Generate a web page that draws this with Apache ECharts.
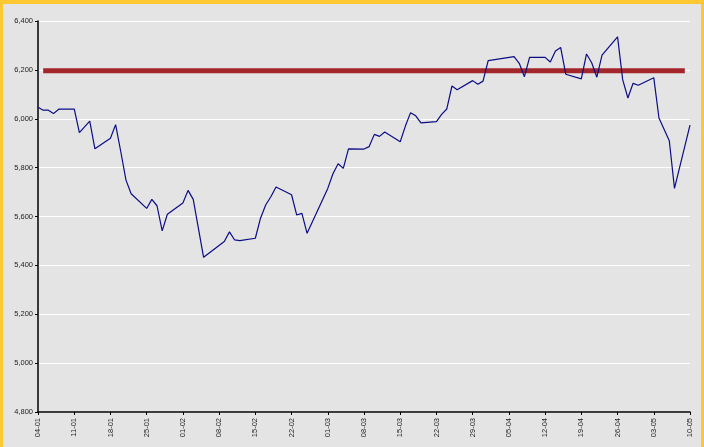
<!DOCTYPE html>
<html>
<head>
<meta charset="utf-8">
<script src="https://cdn.jsdelivr.net/npm/echarts@6/dist/echarts.min.js"></script>
<style>
  html, body { margin: 0; padding: 0; background: #e4e4e4; }
  #chart { width: 704px; height: 447px; }
  #frame {
    position: absolute; left: 0; top: 0; width: 704px; height: 447px;
    box-sizing: border-box; border: 3px solid #fdc832; border-top-width: 4px;
    border-bottom: none; pointer-events: none;
  }
</style>
</head>
<body>
<div id="chart"></div>
<div id="frame"></div>
<script>
// daily closes (trading days only)
var dates = [
  '2010-01-04', '2010-01-05', '2010-01-06', '2010-01-07', '2010-01-08',
  '2010-01-11', '2010-01-12', '2010-01-14', '2010-01-15',
  '2010-01-18', '2010-01-19', '2010-01-20', '2010-01-21', '2010-01-22',
  '2010-01-25', '2010-01-26', '2010-01-27', '2010-01-28', '2010-01-29',
  '2010-02-01', '2010-02-02', '2010-02-03', '2010-02-05',
  '2010-02-09', '2010-02-10', '2010-02-11', '2010-02-12',
  '2010-02-15', '2010-02-16', '2010-02-17', '2010-02-18', '2010-02-19',
  '2010-02-22', '2010-02-23', '2010-02-24', '2010-02-25',
  '2010-03-01', '2010-03-02', '2010-03-03', '2010-03-04', '2010-03-05',
  '2010-03-08', '2010-03-09', '2010-03-10', '2010-03-11', '2010-03-12',
  '2010-03-15', '2010-03-16', '2010-03-17', '2010-03-18', '2010-03-19',
  '2010-03-22', '2010-03-23', '2010-03-24', '2010-03-25', '2010-03-26',
  '2010-03-29', '2010-03-30', '2010-03-31', '2010-04-01',
  '2010-04-06', '2010-04-07', '2010-04-08', '2010-04-09',
  '2010-04-12', '2010-04-13', '2010-04-14', '2010-04-15', '2010-04-16',
  '2010-04-19', '2010-04-20', '2010-04-21', '2010-04-22', '2010-04-23',
  '2010-04-26', '2010-04-27', '2010-04-28', '2010-04-29', '2010-04-30',
  '2010-05-03', '2010-05-04', '2010-05-06', '2010-05-07',
  '2010-05-10'
];
var values = [
  6047, 6035, 6035, 6021, 6039,
  6040, 5943, 5990, 5877,
  5920, 5976, 5865, 5749, 5693,
  5633, 5670, 5644, 5541, 5609,
  5655, 5707, 5670, 5433,
  5498, 5537, 5504, 5501,
  5511, 5593, 5647, 5681, 5721,
  5689, 5606, 5613, 5531,
  5715, 5775, 5816, 5797, 5877,
  5876, 5886, 5936, 5928, 5946,
  5906, 5970, 6025, 6012, 5983,
  5988, 6018, 6040, 6134, 6119,
  6156, 6141, 6154, 6238,
  6254, 6227, 6172, 6251,
  6251, 6232, 6277, 6292, 6182,
  6163, 6265, 6229, 6170, 6260,
  6335, 6159, 6085, 6145, 6137,
  6168, 6003, 5910, 5715,
  5974
];

// horizontal reference level
var targetDates = ['2010-01-05', '2010-05-09'];
var targetValues = [6196, 6196];

var startDate = '2010-01-04';
var endDate = '2010-05-10';
var yMin = 4800, yMax = 6400, yStep = 200;

function dayOf(s) {
  var p = s.split('-');
  var t = Date.UTC(+p[0], +p[1] - 1, +p[2]);
  var p0 = startDate.split('-');
  var t0 = Date.UTC(+p0[0], +p0[1] - 1, +p0[2]);
  return Math.round((t - t0) / 86400000);
}

function dayLabel(v) {
  var p0 = startDate.split('-');
  var d = new Date(Date.UTC(+p0[0], +p0[1] - 1, +p0[2]) + Math.round(v) * 86400000);
  var dd = ('0' + d.getUTCDate()).slice(-2);
  var mm = ('0' + (d.getUTCMonth() + 1)).slice(-2);
  return dd + '-' + mm;
}

var lineData = dates.map(function (d, i) { return [dayOf(d), values[i]]; });
var targetData = targetDates.map(function (d, i) { return [dayOf(d), targetValues[i]]; });

var chart = echarts.init(document.getElementById('chart'));
var option = {
  backgroundColor: '#e4e4e4',
  animation: false,
  grid: { left: 38, right: 14, top: 21, bottom: 35 },
  xAxis: {
    type: 'value',
    min: 0,
    max: dayOf(endDate),
    interval: 7,
    axisLine: { lineStyle: { color: '#000', width: 1.5 } },
    axisTick: { show: true, length: 3, lineStyle: { color: '#000' } },
    axisLabel: {
      rotate: 90,
      margin: 6,
      fontFamily: 'Liberation Sans',
      fontSize: 7.5,
      color: '#222',
      showMinLabel: true,
      showMaxLabel: true,
      formatter: function (v) { return dayLabel(v); }
    },
    splitLine: { show: false }
  },
  yAxis: {
    type: 'value',
    min: yMin,
    max: yMax,
    interval: yStep,
    axisLine: { show: true, lineStyle: { color: '#000', width: 1.5 } },
    axisTick: { show: true, length: 3, lineStyle: { color: '#000' } },
    axisLabel: {
      margin: 5,
      fontFamily: 'Liberation Sans',
      fontSize: 7.5,
      color: '#222',
      formatter: function (v) { return v.toLocaleString('en-US'); }
    },
    splitLine: { show: true, lineStyle: { color: '#ffffff', width: 1 } }
  },
  series: [
    {
      name: 'target',
      type: 'line',
      data: targetData,
      symbol: 'none',
      lineStyle: { color: '#a3262b', width: 5, cap: 'butt' },
      z: 2
    },
    {
      name: 'index',
      type: 'line',
      data: lineData,
      symbol: 'none',
      lineStyle: { color: '#0c0c85', width: 1.2 },
      z: 3
    }
  ]
};
chart.setOption(option);
</script>
</body>
</html>
